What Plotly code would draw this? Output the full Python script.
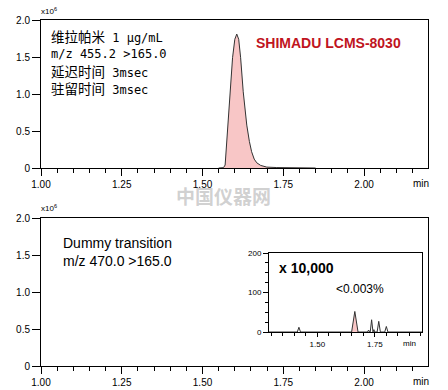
import re
import plotly.graph_objects as go

# ---- data ----
top_t = [1.55, 1.565, 1.570, 1.573, 1.578, 1.585, 1.593, 1.600, 1.606, 1.612, 1.618,
         1.626, 1.637, 1.645, 1.652, 1.660, 1.668, 1.680, 1.699, 1.730, 1.800, 1.850]
top_i = [0, 0.005, 0.04, 0.22, 0.58, 1.03, 1.49, 1.74, 1.81, 1.74, 1.49,
         1.03, 0.58, 0.36, 0.22, 0.12, 0.07, 0.035, 0.012, 0.006, 0.003, 0]

inset_t = [1.29, 1.413, 1.420, 1.427, 1.718, 1.723, 1.727, 1.730, 1.736, 1.742,
           1.746, 1.750, 1.754, 1.760, 1.767, 1.774, 1.793, 1.800, 1.807, 1.955]
inset_i = [0, 0, 12, 0, 0, 5, 0, 0, 31, 0,
           6, 0, 0, 0, 27, 0, 0, 14, 0, 0]

pink_t = [1.649, 1.663, 1.677]
pink_i = [0, 52, 0]

main_ticks = [1.00, 1.25, 1.50, 1.75, 2.00]
main_ticktext = ["1.00", "1.25", "1.50", "1.75", "2.00"]
y_ticks = [0, 0.5, 1.0, 1.5, 2.0]
y_ticktext = ["0", "0.5", "1.0", "1.5", "2.0"]
inset_xticks = [1.50, 1.75]
inset_xticktext = ["1.50", "1.75"]
inset_yticks = [0, 100, 200]

top_lines = ["维拉帕米 1 μg/mL", "m/z 455.2 >165.0", "延迟时间 3msec", "驻留时间 3msec"]
bottom_lines = ["Dummy transition", "m/z 470.0 >165.0"]

W, H = 448, 390
def px(x): return x / W
def py(y): return 1 - y / H

LINE = "#333333"
PINK = "#f8c6c6"
TICKFONT = dict(family="Liberation Sans, Arial", size=10, color="black")

fig = go.Figure()
fig.add_trace(go.Scatter(x=top_t, y=top_i, mode="lines", fill="tozeroy",
                         fillcolor=PINK, line=dict(color=LINE, width=1),
                         xaxis="x", yaxis="y", showlegend=False, hoverinfo="skip"))
fig.add_trace(go.Scatter(x=[], y=[], xaxis="x2", yaxis="y2", showlegend=False))
fig.add_trace(go.Scatter(x=inset_t, y=inset_i, mode="lines",
                         line=dict(color=LINE, width=1),
                         xaxis="x3", yaxis="y3", showlegend=False, hoverinfo="skip"))
fig.add_trace(go.Scatter(x=pink_t, y=pink_i, mode="lines", fill="tozeroy",
                         fillcolor=PINK, line=dict(color=LINE, width=1),
                         xaxis="x3", yaxis="y3", showlegend=False, hoverinfo="skip"))

def main_x(domain, anchor):
    return dict(domain=domain, anchor=anchor, range=[1.0, 2.198], automargin=False,
                tickvals=main_ticks, ticktext=main_ticktext,
                ticks="outside", ticklen=7, tickcolor="black",
                minor=dict(dtick=0.05, tick0=1.0, ticks="outside", ticklen=4, tickcolor="black"),
                showline=True, mirror=True, linecolor="black", linewidth=1,
                showgrid=False, zeroline=False, tickfont=TICKFONT)

def main_y(domain, anchor):
    return dict(domain=domain, anchor=anchor, range=[0, 2.0], automargin=False,
                tickvals=y_ticks, ticktext=y_ticktext,
                ticks="outside", ticklen=8, tickcolor="black",
                showline=True, mirror=True, linecolor="black", linewidth=1,
                showgrid=False, zeroline=False, tickfont=TICKFONT)

xd = [px(41), px(428)]
fig.update_layout(
    width=W, height=H, margin=dict(l=0, r=0, t=0, b=0, autoexpand=False),
    paper_bgcolor="white", plot_bgcolor="white", showlegend=False,
    xaxis=main_x(xd, "y"),
    yaxis=main_y([py(168), py(20)], "x"),
    xaxis2=main_x(xd, "y2"),
    yaxis2=main_y([py(366), py(218)], "x2"),
    xaxis3=dict(domain=[px(269), px(422)], anchor="y3", range=[1.29, 1.955], automargin=False,
                tickvals=inset_xticks, ticktext=inset_xticktext,
                ticks="outside", ticklen=4, tickcolor="black",
                minor=dict(dtick=0.05, tick0=1.0, ticks="outside", ticklen=3, tickcolor="black"),
                showline=True, mirror=True, linecolor="black", linewidth=1,
                showgrid=False, zeroline=False,
                tickfont=dict(family="Liberation Sans, Arial", size=8, color="black")),
    yaxis3=dict(domain=[py(332), py(253)], anchor="x3", range=[0, 200], automargin=False,
                tickvals=inset_yticks, ticks="outside", ticklen=5, tickcolor="black",
                minor=dict(dtick=25, tick0=0, ticks="outside", ticklen=3, tickcolor="black"),
                showline=True, mirror=True, linecolor="black", linewidth=1,
                showgrid=False, zeroline=False,
                tickfont=dict(family="Liberation Sans, Arial", size=8, color="black")),
)

ann = []
def A(text, x, y, size, xanchor="left", color="black", family="Liberation Sans, Arial", bold=False):
    t = f"<b>{text}</b>" if bold else text
    ann.append(dict(text=t, x=px(x), y=py(y), xref="paper", yref="paper",
                    xanchor=xanchor, yanchor="middle", showarrow=False,
                    font=dict(family=family, size=size, color=color)))

def big_cjk(s):
    return re.sub(r"([\u4e00-\u9fff]+)", r'<span style="font-size:13.5px">\1</span>', s)

# exponent labels
A("x10<sup>6</sup>", 39, 11, 8)
A("x10<sup>6</sup>", 39, 208, 8)
# min labels
A("min", 421, 183, 10, xanchor="center")
A("min", 421, 381, 10, xanchor="center")
A("min", 409, 343, 8, xanchor="center")
# top text block
mono = "DejaVu Sans Mono, Noto Sans CJK SC"
for i, s in enumerate(top_lines):
    A(big_cjk(s), 49, 37 + i * 17.3, 12, family=mono)
A("SHIMADU LCMS-8030", 254, 43, 14, color="#c0141e", bold=True)
# bottom text block
for i, s in enumerate(bottom_lines):
    A(s, 61, 243 + i * 18, 14)
A("x 10,000", 277, 268, 14, bold=True)
A("<0.003%", 334, 289, 12)
# watermark
A("中国仪器网", 223, 195, 19, xanchor="center", color="rgba(170,170,170,0.55)",
  family="Noto Sans CJK SC", bold=True)

fig.update_layout(annotations=ann)
fig.write_html("out.html", config={"displayModeBar": False},
               post_script="document.body.style.margin='0';document.body.style.overflow='hidden';")
